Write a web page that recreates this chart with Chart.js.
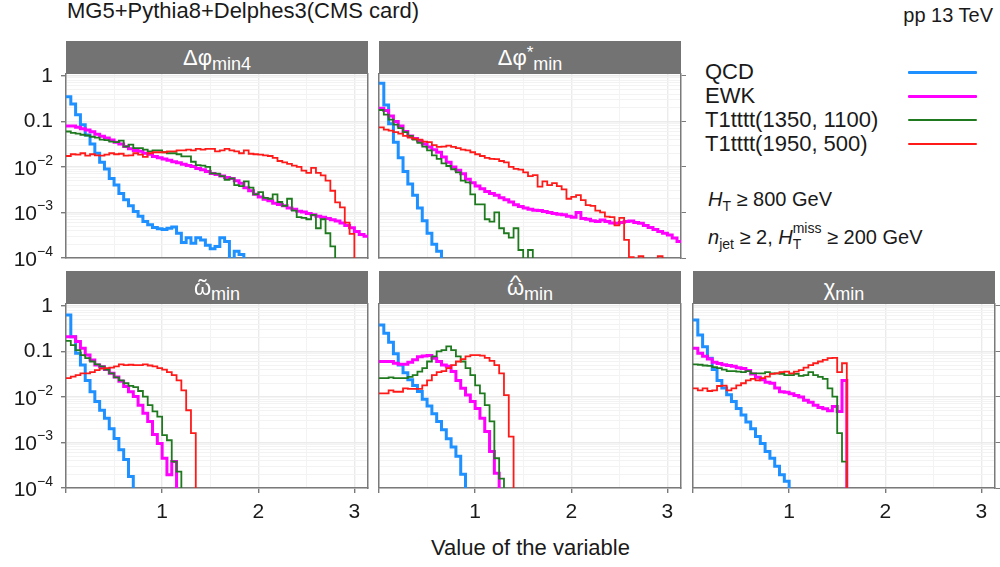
<!DOCTYPE html>
<html>
<head>
<meta charset="utf-8">
<script src="https://cdn.jsdelivr.net/npm/chart.js@4.4.1/dist/chart.umd.min.js"></script>
<style>
  body { margin: 0; width: 1000px; height: 567px; overflow: hidden; background: #fff;
         font-family: "Liberation Sans", Arial, sans-serif; color: #1a1a1a; position: relative; }
  canvas { position: absolute; }
  .abs { position: absolute; white-space: nowrap; }
  .strip { position: absolute; height: 33px; background: #737373; color: #fff; font-size: 22px;
           line-height: 33px; text-align: center; white-space: nowrap; }
  .strip sub { font-size: 18px; vertical-align: -5px; line-height: 0; }
  .strip sup { font-size: 17px; vertical-align: 7px; line-height: 0; }
  .acc { position: relative; display: inline-block; line-height: 22px; }
  .mk { position: absolute; left: 0; right: 0; text-align: center; }
  .leg { font-size: 22px; line-height: 24px; }
  .note { font-size: 20px; line-height: 20px; }
  .note sub { font-size: 14px; vertical-align: -5px; line-height: 0; }
  .stack { display: inline-block; font-size: 14px; line-height: 16px; vertical-align: -5px; }
  .stack span { display: block; }
</style>
</head>
<body>
<div class="abs" style="left:67px; top:0px; font-size:22px; line-height:22px;">MG5+Pythia8+Delphes3(CMS card)</div>
<div class="abs" style="right:7px; top:5px; font-size:20px; line-height:20px;">pp 13 TeV</div>
<div class="abs" style="left:66px; width:929px; top:537px; font-size:22px; line-height:22px; text-align:center;">Value of the variable</div>
<div class="abs note" style="left:708px; top:189px;"><i>H</i><sub>T</sub> ≥ 800 GeV</div>
<div class="abs note" style="left:708px; top:220px;"><i>n</i><sub>jet</sub> ≥ 2, <i>H</i><span class="stack"><span>miss</span><span>T</span></span> ≥ 200 GeV</div>
<script>
// bin width of every histogram (x runs from 0 to pi)
const BIN = 0.05;
const FLOOR = 1e-6; // below the axis: used to draw the drop after the last bin

// Δφ_min4
const dphiMin4QCD = [0.35, 0.24, 0.14, 0.085, 0.05, 0.032, 0.02, 0.0126, 0.009, 0.0056, 0.004, 0.0026, 0.0019, 0.0014,
  0.00105, 0.00083, 0.00063, 0.00054, 0.00047, 0.00044, 0.00042, 0.00045, 0.00048, 0.00035, 0.00022, 0.00028, 0.00021,
  0.00028, 0.00025, 0.00019, 0.00016, 0.00018, 0.00028, 0.00023, 0.00008, 0.00014, 0.00012, 0.00009];
const dphiMin4EWK = [0.079, 0.079, 0.074, 0.069, 0.065, 0.059, 0.052, 0.047, 0.043, 0.039, 0.035, 0.032, 0.028, 0.025,
  0.023, 0.022, 0.020, 0.019, 0.017, 0.016, 0.015, 0.014, 0.013, 0.0123, 0.0115, 0.0107, 0.0102, 0.0093, 0.0087, 0.0079,
  0.0072, 0.0068, 0.0063, 0.0059, 0.0056, 0.0050, 0.0044, 0.0035, 0.0030, 0.0025, 0.0022, 0.00195, 0.0018, 0.0016, 0.0015,
  0.0014, 0.00126, 0.00117, 0.00107, 0.00102, 0.00095, 0.00089, 0.00083, 0.00079, 0.00074, 0.00069, 0.00065, 0.00059,
  0.00052, 0.00046, 0.00038, 0.00033, 0.00030];
const dphiMin4T1a = [0.060, 0.056, 0.054, 0.051, 0.049, 0.046, 0.044, 0.040, 0.039, 0.036, 0.035, 0.038, 0.028, 0.031,
  0.026, 0.026, 0.024, 0.022, 0.023, 0.023, 0.021, 0.020, 0.020, 0.019, 0.017, 0.017, 0.013, 0.011, 0.0107, 0.010, 0.0072,
  0.0071, 0.0063, 0.0052, 0.0056, 0.0040, 0.0038, 0.0048, 0.0035, 0.0025, 0.0028, 0.0021, 0.0020, 0.0025, 0.0017, 0.0014,
  0.0020, 0.0011, 0.00079, 0.00076, 0.00071, 0.00089, 0.00045, 0.00071, 0.00035, 0.00018];
const dphiMin4T1b = [0.0174, 0.019, 0.0186, 0.020, 0.0178, 0.019, 0.018, 0.0178, 0.0186, 0.020, 0.019, 0.0195, 0.0178,
  0.018, 0.020, 0.0186, 0.0166, 0.020, 0.021, 0.021, 0.021, 0.022, 0.022, 0.023, 0.023, 0.024, 0.023, 0.025, 0.024, 0.025,
  0.025, 0.022, 0.023, 0.025, 0.023, 0.022, 0.020, 0.023, 0.0195, 0.019, 0.0186, 0.018, 0.0174, 0.0158, 0.0135, 0.0126,
  0.0117, 0.0107, 0.010, 0.0083, 0.0074, 0.0095, 0.0074, 0.0065, 0.0050, 0.0030, 0.00166, 0.0013, 0.0006, 0.00034];

// Δφ*_min
const dphiStarQCD = [0.69, 0.23, 0.089, 0.035, 0.016, 0.0079, 0.0042, 0.0024, 0.00126, 0.00066, 0.00035, 0.0002, 0.00014];
const dphiStarEWK = [0.195, 0.174, 0.132, 0.10, 0.079, 0.060, 0.048, 0.042, 0.037, 0.032, 0.0275, 0.024, 0.021, 0.0166,
  0.0126, 0.010, 0.0085, 0.0071, 0.0054, 0.0045, 0.0038, 0.0033, 0.0029, 0.0026, 0.0024, 0.0021, 0.0019, 0.0017, 0.00148,
  0.00135, 0.00126, 0.00117, 0.00112, 0.0011, 0.00105, 0.0010, 0.00095, 0.00091, 0.00089, 0.00083, 0.00079, 0.0010,
  0.00074, 0.00071, 0.00066, 0.00063, 0.00068, 0.00063, 0.00059, 0.00058, 0.0006, 0.00063, 0.00065, 0.0006, 0.00058,
  0.00052, 0.00047, 0.00042, 0.00038, 0.00035, 0.00032, 0.000275, 0.00023];
const dphiStarT1a = [0.178, 0.141, 0.11, 0.085, 0.071, 0.058, 0.048, 0.040, 0.034, 0.028, 0.023, 0.018, 0.015, 0.012,
  0.0105, 0.0089, 0.0076, 0.0050, 0.0046, 0.0025, 0.0015, 0.0015, 0.00071, 0.00063, 0.0010, 0.00045, 0.00035, 0.00028,
  0.00045, 0.00015, 0.00005, 0.00015];
const dphiStarT1b = [0.074, 0.066, 0.063, 0.058, 0.054, 0.048, 0.044, 0.042, 0.040, 0.036, 0.035, 0.030, 0.0275, 0.028,
  0.0295, 0.0275, 0.026, 0.024, 0.023, 0.021, 0.019, 0.0174, 0.0158, 0.015, 0.0148, 0.0135, 0.0126, 0.010, 0.0091, 0.0087,
  0.0076, 0.0063, 0.0066, 0.0037, 0.0048, 0.0040, 0.0044, 0.0038, 0.0032, 0.0020, 0.0022, 0.0024, 0.00186, 0.00145, 0.0014,
  0.0011, 0.0010, 0.00081, 0.00079, 0.00052, 0.00076, 0.00025, 0.000105, 0.00005, 0.00011, 0.00005, 0.00005, 0.00005,
  0.00011];

// ω̃_min
const omegaTildeQCD = [0.63, 0.21, 0.091, 0.050, 0.023, 0.013, 0.0079, 0.0051, 0.0034, 0.0020, 0.00123, 0.00069, 0.00042,
  0.00018];
const omegaTildeEWK = [0.21, 0.21, 0.166, 0.117, 0.083, 0.065, 0.050, 0.046, 0.040, 0.033, 0.0275, 0.022, 0.017, 0.013,
  0.0102, 0.0066, 0.0044, 0.0029, 0.0015, 0.00095, 0.00045, 0.000195, 0.00038];
const omegaTildeT1a = [0.17, 0.138, 0.107, 0.083, 0.071, 0.060, 0.052, 0.047, 0.040, 0.033, 0.027, 0.023, 0.020, 0.0175,
  0.0165, 0.0135, 0.0102, 0.0066, 0.0048, 0.0037, 0.00145, 0.00112, 0.00038, 0.00023];
const omegaTildeT1b = [0.026, 0.028, 0.030, 0.033, 0.033, 0.035, 0.039, 0.042, 0.043, 0.044, 0.047, 0.052, 0.050, 0.051,
  0.050, 0.050, 0.052, 0.049, 0.047, 0.043, 0.040, 0.035, 0.030, 0.023, 0.014, 0.0051, 0.0016];

// ω̂_min
const omegaHatQCD = [0.38, 0.25, 0.158, 0.089, 0.050, 0.034, 0.024, 0.0178, 0.0132, 0.0089, 0.0063, 0.0043, 0.0029,
  0.0019, 0.0012, 0.0008, 0.0005, 0.0002];
const omegaHatEWK = [0.060, 0.060, 0.060, 0.055, 0.052, 0.052, 0.058, 0.066, 0.076, 0.079, 0.081, 0.071, 0.060, 0.050,
  0.047, 0.036, 0.023, 0.0155, 0.011, 0.0079, 0.0056, 0.0034, 0.00174, 0.00063, 0.00021];
const omegaHatT1a = [0.026, 0.026, 0.027, 0.026, 0.026, 0.026, 0.0275, 0.030, 0.036, 0.043, 0.060, 0.078, 0.10, 0.107,
  0.129, 0.107, 0.078, 0.060, 0.043, 0.030, 0.018, 0.012, 0.0066, 0.0029, 0.00045, 0.00016];
const omegaHatT1b = [0.012, 0.012, 0.014, 0.013, 0.013, 0.0155, 0.015, 0.015, 0.015, 0.018, 0.023, 0.030, 0.035, 0.037,
  0.043, 0.050, 0.060, 0.068, 0.078, 0.083, 0.083, 0.081, 0.072, 0.062, 0.050, 0.033, 0.011, 0.00135];

// χ_min
const chiQCD = [0.49, 0.23, 0.126, 0.071, 0.040, 0.023, 0.0158, 0.0112, 0.0079, 0.0056, 0.0040, 0.0028, 0.0020, 0.00135,
  0.00095, 0.00063, 0.00045, 0.00030, 0.000195, 0.00014];
const chiEWK = [0.117, 0.091, 0.078, 0.068, 0.058, 0.054, 0.051, 0.049, 0.047, 0.044, 0.042, 0.038, 0.032, 0.027, 0.024,
  0.021, 0.020, 0.0158, 0.013, 0.0126, 0.0117, 0.0107, 0.010, 0.0085, 0.0076, 0.0066, 0.0059, 0.0055, 0.0050, 0.0062,
  0.0048, 0.023];
const chiT1a = [0.052, 0.051, 0.049, 0.048, 0.045, 0.043, 0.040, 0.037, 0.037, 0.036, 0.035, 0.037, 0.033, 0.033, 0.033,
  0.035, 0.033, 0.033, 0.032, 0.030, 0.030, 0.032, 0.029, 0.030, 0.035, 0.030, 0.0275, 0.025, 0.0155, 0.0102, 0.0016,
  0.00038];
const chiT1b = [0.0155, 0.014, 0.0155, 0.0135, 0.014, 0.0174, 0.0178, 0.014, 0.0155, 0.018, 0.020, 0.023, 0.025, 0.023,
  0.026, 0.028, 0.032, 0.033, 0.035, 0.036, 0.033, 0.036, 0.039, 0.044, 0.050, 0.055, 0.060, 0.065, 0.071, 0.072, 0.035,
  0.055];

// axes
const X_GRID = [0, 0.5, 1, 1.5, 2, 2.5, 3];
const X_LABELS = ["", "", "1", "", "2", "", "3"];
const Y_DECADES = [1e-4, 1e-3, 1e-2, 0.1, 1];
const Y_MINOR = [2, 3, 4, 5, 6, 7, 8, 9];
const Y_TICK_BASE = ["10", "10", "10", "0.1", "1"];
const Y_TICK_EXP = ["\u22124", "\u22123", "\u22122", "", ""];

const SERIES = [
  { label: "QCD", color: "#1E90FF", width: 3, order: 4 },
  { label: "EWK", color: "#FF00FF", width: 3, order: 3 },
  { label: "T1tttt(1350, 1100)", color: "#1F7A1F", width: 1.8, order: 2 },
  { label: "T1tttt(1950, 500)", color: "#FF1A1A", width: 1.8, order: 1 }
];

const PANELS = [
  { title: "Δφ<sub>min4</sub>", left: 66, top: 74, y: true, x: false, rt: false,
    data: [dphiMin4QCD, dphiMin4EWK, dphiMin4T1a, dphiMin4T1b] },
  { title: "Δφ<sup>*</sup><sub>min</sub>", left: 379, top: 74, y: false, x: false, rt: true,
    data: [dphiStarQCD, dphiStarEWK, dphiStarT1a, dphiStarT1b] },
  { title: "<span class='acc'>ω<span class='mk' style='top:0px;font-size:24px'>˜</span></span><sub>min</sub>",
    left: 66, top: 304, y: true, x: true, rt: false,
    data: [omegaTildeQCD, omegaTildeEWK, omegaTildeT1a, omegaTildeT1b] },
  { title: "<span class='acc'>ω<span class='mk' style='top:-6px;font-size:19px;transform:scaleX(1.3)'>^</span></span><sub>min</sub>",
    left: 379, top: 304, y: false, x: true, rt: false,
    data: [omegaHatQCD, omegaHatEWK, omegaHatT1a, omegaHatT1b] },
  { title: "χ<sub>min</sub>", left: 693, top: 304, y: false, x: true, rt: true,
    data: [chiQCD, chiEWK, chiT1a, chiT1b] }
];

const PLOT_W = 302, PLOT_H = 184, Y_AXIS_W = 66, RIGHT_W = 14, TOP_PAD = 14, X_AXIS_H = 44;
const AXIS_COLOR = "#7a7a7a";
const TICK_FONT = "21px 'Liberation Sans', Arial, sans-serif";
const SUP_FONT = "14px 'Liberation Sans', Arial, sans-serif";

const yTicks = [];
Y_DECADES.forEach((d) => {
  yTicks.push(d);
  if (d < 1) Y_MINOR.forEach((m) => yTicks.push(m * d));
});
const isDecade = (v) => Math.abs(Math.log10(v) - Math.round(Math.log10(v))) < 1e-6;

function toSteps(values) {
  const pts = values.map((v, i) => ({ x: i * BIN, y: v }));
  const end = values.length * BIN;
  pts.push({ x: end, y: end > Math.PI ? values[values.length - 1] : FLOOR });
  return pts;
}

// y labels with a real superscript
const yLabels = {
  id: "yLabels",
  afterDraw(chart, args, opts) {
    if (!opts.show) return;
    const { ctx } = chart;
    const y = chart.scales.y;
    const right = chart.chartArea.left - 13;
    ctx.save();
    ctx.fillStyle = "#1a1a1a";
    ctx.textBaseline = "middle";
    Y_DECADES.forEach((v, i) => {
      const py = y.getPixelForValue(v);
      const exp = Y_TICK_EXP[i];
      ctx.font = SUP_FONT;
      const ew = exp ? ctx.measureText(exp).width : 0;
      ctx.font = TICK_FONT;
      ctx.textAlign = "right";
      ctx.fillText(Y_TICK_BASE[i], right - ew, py + (exp ? 2 : 0));
      if (exp) {
        ctx.font = SUP_FONT;
        ctx.textAlign = "left";
        ctx.fillText(exp, right - ew, py - 6);
      }
    });
    ctx.restore();
  }
};

PANELS.forEach((p) => {
  const strip = document.createElement("div");
  strip.className = "strip";
  strip.style.left = p.left + "px";
  strip.style.top = (p.top - 33) + "px";
  strip.style.width = PLOT_W + "px";
  strip.innerHTML = p.title;
  document.body.appendChild(strip);

  const canvas = document.createElement("canvas");
  canvas.width = Y_AXIS_W + PLOT_W + RIGHT_W;
  canvas.height = TOP_PAD + PLOT_H + X_AXIS_H;
  canvas.style.left = (p.left - Y_AXIS_W) + "px";
  canvas.style.top = (p.top - TOP_PAD) + "px";
  document.body.appendChild(canvas);

  new Chart(canvas.getContext("2d"), {
    type: "line",
    data: {
      datasets: SERIES.map((s, k) => ({
        label: s.label,
        data: toSteps(p.data[k]),
        borderColor: s.color,
        borderWidth: s.width,
        stepped: "before",
        pointRadius: 0,
        fill: false,
        order: s.order
      }))
    },
    options: {
      responsive: false,
      animation: false,
      events: [],
      layout: { padding: { left: 0, right: 0, top: TOP_PAD, bottom: 0 } },
      plugins: { legend: { display: false }, tooltip: { enabled: false }, yLabels: { show: p.y } },
      scales: {
        x: {
          type: "linear", min: 0, max: Math.PI,
          afterBuildTicks: (s) => { s.ticks = X_GRID.map((v) => ({ value: v })); },
          afterFit: (s) => { s.height = X_AXIS_H; },
          ticks: {
            display: p.x, autoSkip: false, maxRotation: 0, padding: 7, color: "#1a1a1a",
            font: { family: "'Liberation Sans', Arial, sans-serif", size: 21 },
            callback: (v, i) => X_LABELS[i]
          },
          grid: {
            color: (c) => (Number.isInteger(c.tick.value) ? "#EBEBEB" : "#F3F3F3"),
            lineWidth: (c) => (Number.isInteger(c.tick.value) ? 1.4 : 1),
            tickColor: (c) => (p.x && Number.isInteger(c.tick.value) ? AXIS_COLOR : "rgba(0,0,0,0)"),
            tickLength: 5
          },
          border: { display: true, color: AXIS_COLOR, width: 1.5 }
        },
        y: {
          type: "logarithmic", min: 1e-4, max: 1.1,
          afterBuildTicks: (s) => { s.ticks = yTicks.map((v) => ({ value: v })); },
          afterFit: (s) => { s.width = Y_AXIS_W; },
          ticks: { display: false },
          grid: {
            color: (c) => (isDecade(c.tick.value) ? "#EBEBEB" : "#F3F3F3"),
            lineWidth: (c) => (isDecade(c.tick.value) ? 1.4 : 1),
            tickColor: (c) => (p.y && isDecade(c.tick.value) ? AXIS_COLOR : "rgba(0,0,0,0)"),
            tickLength: 5
          },
          border: { display: true, color: AXIS_COLOR, width: 1.5 }
        },
        y2: {
          type: "logarithmic", position: "right", min: 1e-4, max: 1.1,
          afterBuildTicks: (s) => { s.ticks = Y_DECADES.map((v) => ({ value: v })); },
          afterFit: (s) => { s.width = RIGHT_W; },
          ticks: { display: false },
          grid: {
            drawOnChartArea: false,
            tickColor: p.rt ? AXIS_COLOR : "rgba(0,0,0,0)",
            tickLength: 5
          },
          border: { display: true, color: AXIS_COLOR, width: 1.5 }
        }
      }
    },
    plugins: [yLabels]
  });
});

// legend
const LEG_BASE = [80, 104, 128, 152];
SERIES.forEach((s, k) => {
  const t = document.createElement("div");
  t.className = "abs leg";
  t.style.left = "705px";
  t.style.top = (LEG_BASE[k] - 19.6) + "px";
  t.textContent = s.label;
  document.body.appendChild(t);
  const line = document.createElement("div");
  line.className = "abs";
  line.style.left = "908px";
  line.style.width = "69px";
  line.style.height = s.width + "px";
  line.style.top = (LEG_BASE[k] - 8 - s.width / 2) + "px";
  line.style.background = s.color;
  line.style.borderRadius = "1px";
  document.body.appendChild(line);
});
</script>
</body>
</html>
